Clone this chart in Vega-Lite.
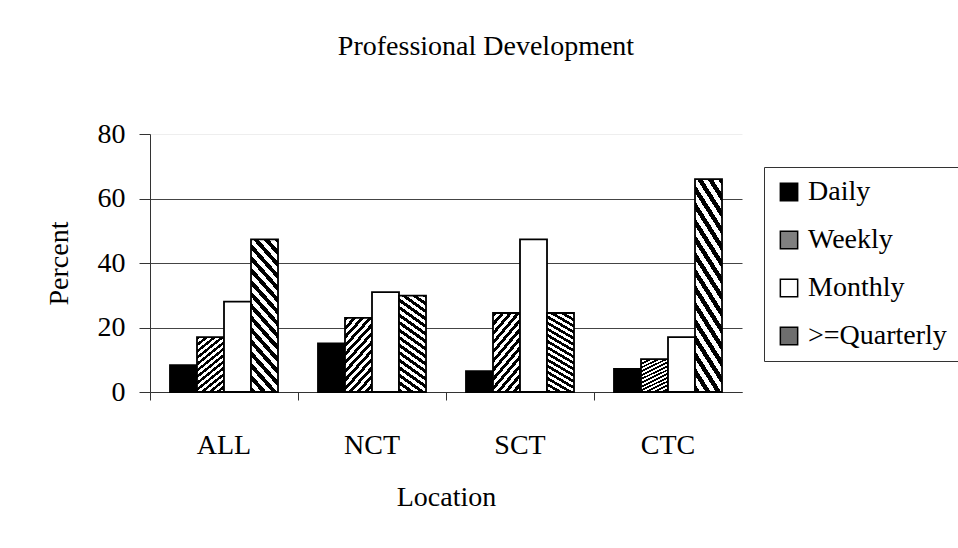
{
  "$schema": "https://vega.github.io/schema/vega-lite/v6.json",
  "autosize": "none",
  "width": 592,
  "height": 258,
  "padding": {"left": 150, "top": 134, "right": 216, "bottom": 156},
  "background": "white",
  "title": {
    "text": "Professional Development",
    "fontSize": 28,
    "fontWeight": "normal",
    "font": "Liberation Serif",
    "color": "black",
    "anchor": "middle",
    "baseline": "alphabetic",
    "offset": 37,
    "dx": 40
  },
  "config": {
    "font": "Liberation Serif",
    "view": {"stroke": null},
    "axis": {"labelFont": "Liberation Serif", "titleFont": "Liberation Serif", "labelColor": "black", "titleColor": "black", "labelFontSize": 28, "titleFontSize": 28, "titleFontWeight": "normal"}
  },
  "data": {
    "values": [
      {"location": "ALL", "series": "Daily", "percent": 8.3},
      {"location": "ALL", "series": "Weekly", "percent": 17},
      {"location": "ALL", "series": "Monthly", "percent": 28},
      {"location": "ALL", "series": ">=Quarterly", "percent": 47.3},
      {"location": "NCT", "series": "Daily", "percent": 15.1},
      {"location": "NCT", "series": "Weekly", "percent": 23},
      {"location": "NCT", "series": "Monthly", "percent": 31},
      {"location": "NCT", "series": ">=Quarterly", "percent": 29.9},
      {"location": "SCT", "series": "Daily", "percent": 6.5},
      {"location": "SCT", "series": "Weekly", "percent": 24.5},
      {"location": "SCT", "series": "Monthly", "percent": 47.3},
      {"location": "SCT", "series": ">=Quarterly", "percent": 24.5},
      {"location": "CTC", "series": "Daily", "percent": 7.2},
      {"location": "CTC", "series": "Weekly", "percent": 10.2},
      {"location": "CTC", "series": "Monthly", "percent": 17},
      {"location": "CTC", "series": ">=Quarterly", "percent": 66}
    ]
  },
  "mark": {"type": "bar", "stroke": "black", "strokeWidth": 1.8},
  "encoding": {
    "x": {
      "field": "location",
      "type": "nominal",
      "sort": ["ALL", "NCT", "SCT", "CTC"],
      "scale": {"paddingInner": 0, "paddingOuter": 0},
      "axis": {
        "title": "Location",
        "labelAngle": 0,
        "bandPosition": 0,
        "tickSize": 8,
        "tickColor": "#333",
        "domainColor": "#333",
        "labelPadding": 31,
        "titlePadding": 24,
        "grid": false
      }
    },
    "xOffset": {
      "field": "series",
      "type": "nominal",
      "sort": ["Daily", "Weekly", "Monthly", ">=Quarterly"],
      "scale": {"paddingInner": 0, "paddingOuter": 0.74}
    },
    "y": {
      "field": "percent",
      "type": "quantitative",
      "scale": {"domain": [0, 80], "nice": false},
      "axis": {
        "title": "Percent",
        "values": [0, 20, 40, 60, 80],
        "tickSize": 11,
        "tickColor": "#333",
        "domainColor": "#333",
        "labelPadding": 14,
        "titlePadding": 24,
        "grid": true,
        "gridColor": {"condition": {"test": "datum.value === 80", "value": "#eeeeee"}, "value": "#444444"},
        "gridOpacity": 1
      }
    },
    "fill": {
      "field": "series",
      "type": "nominal",
      "condition": [
        {"test": "datum.series === 'Weekly'", "value": {"gradient": "linear", "x1": 0, "y1": 0, "x2": 1, "y2": 2.5, "stops": [
            {"offset": 0, "color": "#000"}, {"offset": 0.02, "color": "#000"}, {"offset": 0.02, "color": "#fff"}, {"offset": 0.04, "color": "#fff"},
            {"offset": 0.04, "color": "#000"}, {"offset": 0.06, "color": "#000"}, {"offset": 0.06, "color": "#fff"}, {"offset": 0.08, "color": "#fff"},
            {"offset": 0.08, "color": "#000"}, {"offset": 0.10, "color": "#000"}, {"offset": 0.10, "color": "#fff"}, {"offset": 0.12, "color": "#fff"},
            {"offset": 0.12, "color": "#000"}, {"offset": 0.14, "color": "#000"}, {"offset": 0.14, "color": "#fff"}, {"offset": 0.16, "color": "#fff"},
            {"offset": 0.16, "color": "#000"}, {"offset": 0.18, "color": "#000"}, {"offset": 0.18, "color": "#fff"}, {"offset": 0.20, "color": "#fff"},
            {"offset": 0.20, "color": "#000"}, {"offset": 0.22, "color": "#000"}, {"offset": 0.22, "color": "#fff"}, {"offset": 0.24, "color": "#fff"},
            {"offset": 0.24, "color": "#000"}, {"offset": 0.26, "color": "#000"}, {"offset": 0.26, "color": "#fff"}, {"offset": 0.28, "color": "#fff"},
            {"offset": 0.28, "color": "#000"}, {"offset": 0.30, "color": "#000"}, {"offset": 0.30, "color": "#fff"}, {"offset": 0.32, "color": "#fff"},
            {"offset": 0.32, "color": "#000"}, {"offset": 0.34, "color": "#000"}, {"offset": 0.34, "color": "#fff"}, {"offset": 0.36, "color": "#fff"},
            {"offset": 0.36, "color": "#000"}, {"offset": 0.38, "color": "#000"}, {"offset": 0.38, "color": "#fff"}, {"offset": 0.40, "color": "#fff"},
            {"offset": 0.40, "color": "#000"}, {"offset": 0.42, "color": "#000"}, {"offset": 0.42, "color": "#fff"}, {"offset": 0.44, "color": "#fff"},
            {"offset": 0.44, "color": "#000"}, {"offset": 0.46, "color": "#000"}, {"offset": 0.46, "color": "#fff"}, {"offset": 0.48, "color": "#fff"},
            {"offset": 0.48, "color": "#000"}, {"offset": 0.50, "color": "#000"}, {"offset": 0.50, "color": "#fff"}, {"offset": 0.52, "color": "#fff"}
          ]}},
        {"test": "datum.series === '>=Quarterly'", "value": {"gradient": "linear", "x1": 0, "y1": 1, "x2": 1, "y2": -4, "stops": [
            {"offset": 0, "color": "#000"}, {"offset": 0.0075, "color": "#000"}, {"offset": 0.0075, "color": "#fff"}, {"offset": 0.015, "color": "#fff"},
            {"offset": 0.015, "color": "#000"}, {"offset": 0.0225, "color": "#000"}, {"offset": 0.0225, "color": "#fff"}, {"offset": 0.03, "color": "#fff"},
            {"offset": 0.03, "color": "#000"}, {"offset": 0.0375, "color": "#000"}, {"offset": 0.0375, "color": "#fff"}, {"offset": 0.045, "color": "#fff"},
            {"offset": 0.045, "color": "#000"}, {"offset": 0.0525, "color": "#000"}, {"offset": 0.0525, "color": "#fff"}, {"offset": 0.06, "color": "#fff"},
            {"offset": 0.06, "color": "#000"}, {"offset": 0.0675, "color": "#000"}, {"offset": 0.0675, "color": "#fff"}, {"offset": 0.075, "color": "#fff"},
            {"offset": 0.075, "color": "#000"}, {"offset": 0.0825, "color": "#000"}, {"offset": 0.0825, "color": "#fff"}, {"offset": 0.09, "color": "#fff"},
            {"offset": 0.09, "color": "#000"}, {"offset": 0.0975, "color": "#000"}, {"offset": 0.0975, "color": "#fff"}, {"offset": 0.105, "color": "#fff"},
            {"offset": 0.105, "color": "#000"}, {"offset": 0.1125, "color": "#000"}, {"offset": 0.1125, "color": "#fff"}, {"offset": 0.12, "color": "#fff"},
            {"offset": 0.12, "color": "#000"}, {"offset": 0.1275, "color": "#000"}, {"offset": 0.1275, "color": "#fff"}, {"offset": 0.135, "color": "#fff"},
            {"offset": 0.135, "color": "#000"}, {"offset": 0.1425, "color": "#000"}, {"offset": 0.1425, "color": "#fff"}, {"offset": 0.15, "color": "#fff"},
            {"offset": 0.15, "color": "#000"}, {"offset": 0.1575, "color": "#000"}, {"offset": 0.1575, "color": "#fff"}, {"offset": 0.165, "color": "#fff"},
            {"offset": 0.165, "color": "#000"}, {"offset": 0.1725, "color": "#000"}, {"offset": 0.1725, "color": "#fff"}, {"offset": 0.18, "color": "#fff"},
            {"offset": 0.18, "color": "#000"}, {"offset": 0.1875, "color": "#000"}, {"offset": 0.1875, "color": "#fff"}, {"offset": 0.195, "color": "#fff"},
            {"offset": 0.195, "color": "#000"}, {"offset": 0.2025, "color": "#000"}, {"offset": 0.2025, "color": "#fff"}, {"offset": 0.21, "color": "#fff"},
            {"offset": 0.21, "color": "#000"}, {"offset": 0.2175, "color": "#000"}, {"offset": 0.2175, "color": "#fff"}, {"offset": 0.225, "color": "#fff"},
            {"offset": 0.225, "color": "#000"}, {"offset": 0.2325, "color": "#000"}, {"offset": 0.2325, "color": "#fff"}, {"offset": 0.24, "color": "#fff"}
          ]}}
      ],
      "scale": {
        "domain": ["Daily", "Weekly", "Monthly", ">=Quarterly"],
        "range": ["#000000", "#808080", "#ffffff", "#6e6e6e"]
      },
      "legend": {
        "title": null,
        "orient": "none",
        "legendX": 614,
        "legendY": 33,
        "strokeColor": "#333",
        "fillColor": "white",
        "padding": 11,
        "rowPadding": 20,
        "symbolType": "square",
        "symbolSize": 300,
        "symbolStrokeColor": "black",
        "symbolStrokeWidth": 1.5,
        "symbolOpacity": 1,
        "labelFontSize": 28,
        "labelFont": "Liberation Serif",
        "labelColor": "black",
        "labelOffset": 5,
        "labelLimit": 300,
        "encode": {
          "symbols": {
            "update": {
              "stroke": {"value": "#000000"},
              "strokeWidth": {"value": 1.5}
            }
          }
        }
      }
    }
  }
}
